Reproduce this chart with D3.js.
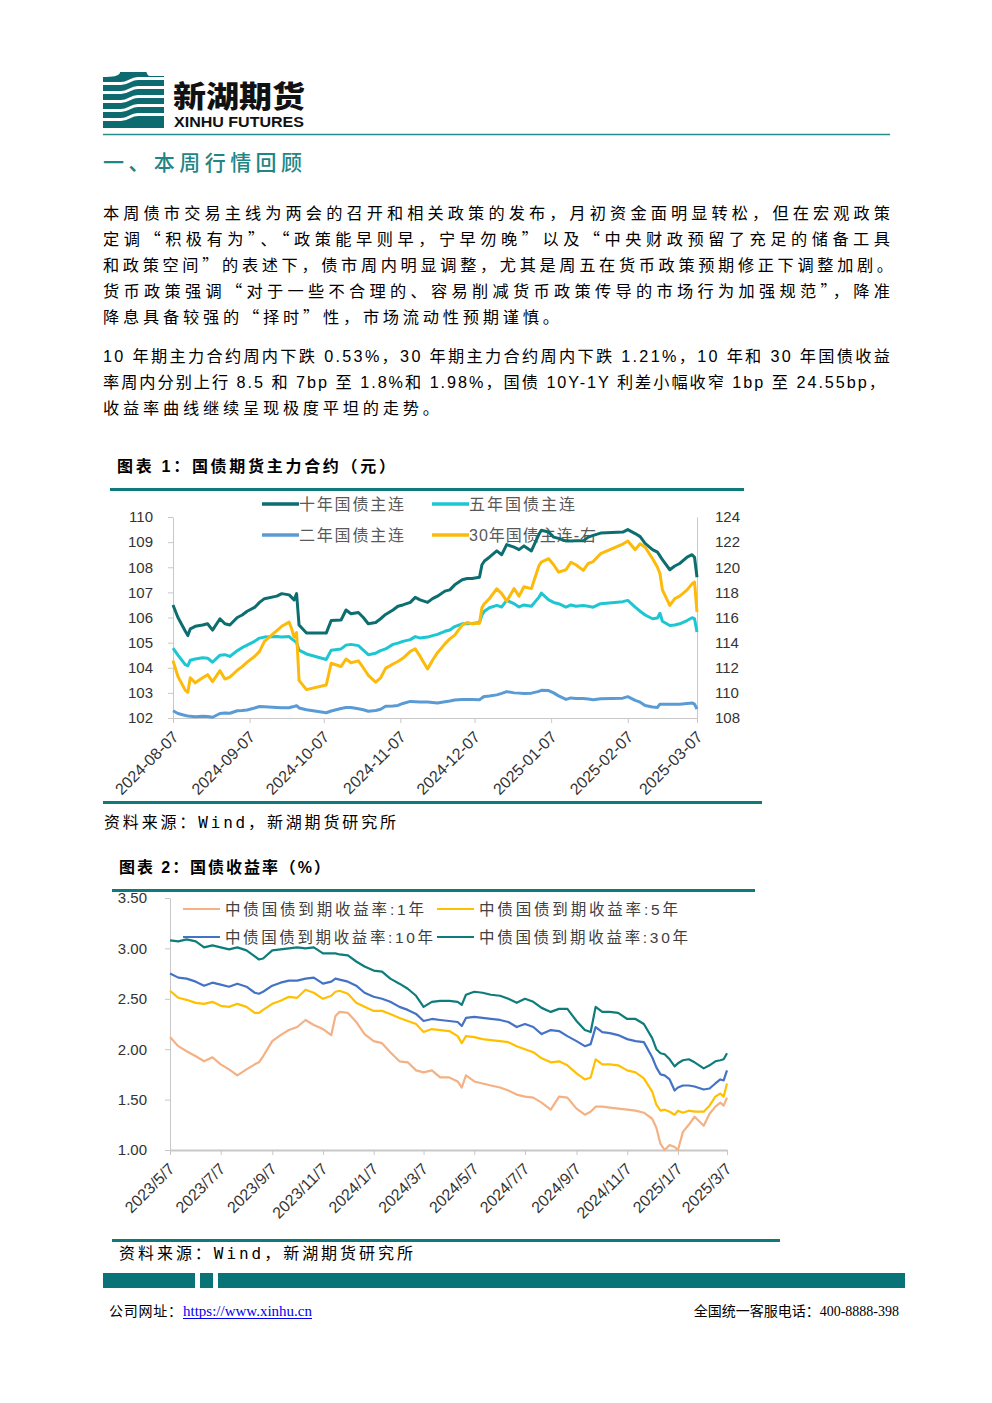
<!DOCTYPE html>
<html><head><meta charset="utf-8">
<script src="https://cdn.jsdelivr.net/npm/d3@7"></script>
<style>
html,body{margin:0;padding:0;background:#fff;}
svg{display:block;}
</style></head>
<body>
<svg id="page" width="992" height="1403"></svg>
<script>
// ---------------- Chart 1 data: 国债期货主力合约 ----------------
const c1Dates = ["2024-08-07","2024-08-09","2024-08-12","2024-08-13","2024-08-14","2024-08-16","2024-08-19","2024-08-21","2024-08-23","2024-08-26","2024-08-28","2024-08-30",
"2024-09-02","2024-09-04","2024-09-06","2024-09-09","2024-09-11","2024-09-13","2024-09-18","2024-09-20","2024-09-23","2024-09-24","2024-09-25","2024-09-26","2024-09-27","2024-09-30",
"2024-10-08","2024-10-10","2024-10-14","2024-10-16","2024-10-18","2024-10-21","2024-10-23","2024-10-25","2024-10-28","2024-10-30",
"2024-11-01","2024-11-04","2024-11-06","2024-11-08","2024-11-11","2024-11-13","2024-11-15","2024-11-18","2024-11-20","2024-11-22","2024-11-25","2024-11-27","2024-11-29",
"2024-12-02","2024-12-04","2024-12-06","2024-12-09","2024-12-10","2024-12-11","2024-12-13","2024-12-16","2024-12-18","2024-12-20","2024-12-23","2024-12-25","2024-12-27","2024-12-30",
"2025-01-02","2025-01-03","2025-01-06","2025-01-08","2025-01-10","2025-01-13","2025-01-15","2025-01-17","2025-01-20","2025-01-22","2025-01-24","2025-01-27",
"2025-02-05","2025-02-07","2025-02-10","2025-02-12","2025-02-14","2025-02-17","2025-02-19","2025-02-20","2025-02-21","2025-02-24","2025-02-26","2025-02-28",
"2025-03-03","2025-03-05","2025-03-06","2025-03-07"];
const c1T10 = [106.50,106.00,105.45,105.28,105.55,105.65,105.70,105.75,105.50,105.95,105.75,105.70,
106.00,106.10,106.25,106.40,106.60,106.75,106.85,106.95,106.90,106.80,106.70,106.95,105.70,105.38,
105.38,105.88,105.90,106.30,106.15,106.20,106.00,105.75,105.80,105.95,
106.12,106.30,106.45,106.50,106.60,106.80,106.70,106.60,106.75,106.85,107.05,107.10,107.30,
107.50,107.55,107.55,107.60,108.10,108.25,108.40,108.65,108.50,108.90,108.80,108.70,108.85,108.65,
109.30,109.47,109.40,109.20,109.15,109.05,109.04,109.05,109.05,109.20,109.27,109.36,
109.40,109.50,109.34,109.22,108.95,108.70,108.60,108.45,108.30,107.90,108.05,108.15,
108.40,108.50,108.40,107.60];
const c1T05 = [104.78,104.50,104.12,104.08,104.30,104.35,104.40,104.38,104.22,104.50,104.52,104.45,
104.68,104.80,104.90,105.05,105.18,105.22,105.24,105.22,105.24,105.15,105.08,105.00,104.70,104.55,
104.33,104.70,104.75,104.90,104.93,104.88,104.70,104.52,104.58,104.68,
104.75,104.93,104.98,105.05,105.12,105.24,105.18,105.22,105.28,105.33,105.45,105.50,105.64,
105.75,105.75,105.76,105.80,106.10,106.25,106.39,106.48,106.42,106.68,106.55,106.42,106.50,106.45,
106.80,106.97,106.70,106.60,106.55,106.41,106.50,106.45,106.48,106.45,106.41,106.55,
106.63,106.68,106.41,106.25,106.10,105.95,105.98,106.17,105.85,105.68,105.70,105.75,
105.88,105.99,105.95,105.42];
const c1T02 = [102.29,102.18,102.10,102.08,102.07,102.05,102.07,102.06,102.03,102.18,102.20,102.19,
102.29,102.30,102.32,102.40,102.46,102.45,102.42,102.41,102.41,102.44,102.46,102.49,102.40,102.33,
102.21,102.28,102.38,102.42,102.42,102.37,102.33,102.27,102.30,102.35,
102.47,102.48,102.50,102.58,102.66,102.65,102.64,102.64,102.62,102.60,102.65,102.68,102.72,
102.74,102.74,102.74,102.73,102.80,102.86,102.88,102.92,102.98,103.05,103.00,102.99,102.98,102.99,
103.06,103.10,103.09,103.00,102.88,102.74,102.80,102.78,102.78,102.76,102.73,102.77,
102.79,102.85,102.70,102.63,102.50,102.44,102.42,102.55,102.55,102.55,102.55,102.55,
102.58,102.60,102.55,102.36];
const c1T30 = [112.57,111.30,110.20,110.05,111.20,110.80,111.20,111.45,110.90,111.77,111.10,111.25,
111.80,112.09,112.45,112.90,113.30,114.10,114.95,115.30,115.63,115.10,114.43,114.80,111.00,110.26,
110.63,112.36,112.10,112.70,112.40,112.55,112.00,111.40,110.85,111.20,
111.95,112.30,112.50,112.75,113.30,113.50,112.90,111.90,112.60,113.20,113.90,114.30,114.60,
115.40,115.60,115.50,115.55,116.80,117.10,117.50,118.29,117.90,117.30,118.30,117.70,118.45,118.30,
120.10,120.41,120.68,120.20,119.61,119.80,120.40,120.20,119.75,120.30,120.45,121.08,
121.85,122.09,121.40,121.87,121.60,120.70,120.00,119.50,118.20,116.96,117.50,117.70,
118.20,118.68,118.82,116.43];
const c1LeftTicks = [102,103,104,105,106,107,108,109,110];
const c1RightTicks = [108,110,112,114,116,118,120,122,124];
const c1XTicks = ["2024-08-07","2024-09-07","2024-10-07","2024-11-07","2024-12-07","2025-01-07","2025-02-07","2025-03-07"];
const c1Names = ["十年国债主连","五年国债主连","二年国债主连","30年国债主连-右"];

// ---------------- Chart 2 data: 国债收益率 ----------------
const c2Dates = ["2023-05-07","2023-05-17","2023-05-27","2023-06-07","2023-06-17","2023-06-27","2023-07-07","2023-07-17","2023-07-27",
"2023-08-07","2023-08-17","2023-08-22","2023-08-27","2023-09-07","2023-09-17","2023-09-27","2023-10-07","2023-10-17","2023-10-27",
"2023-11-07","2023-11-17","2023-11-22","2023-11-27","2023-12-07","2023-12-17","2023-12-27",
"2024-01-07","2024-01-17","2024-01-27","2024-02-07","2024-02-17","2024-02-27","2024-03-07","2024-03-17","2024-03-27",
"2024-04-07","2024-04-17","2024-04-22","2024-04-27","2024-05-07","2024-05-17","2024-05-27","2024-06-07","2024-06-17","2024-06-27",
"2024-07-07","2024-07-17","2024-07-27","2024-08-07","2024-08-17","2024-08-27","2024-09-07","2024-09-17","2024-09-24","2024-09-30",
"2024-10-08","2024-10-17","2024-10-27","2024-11-07","2024-11-17","2024-11-27","2024-12-07","2024-12-12","2024-12-17","2024-12-22","2024-12-28",
"2025-01-03","2025-01-07","2025-01-13","2025-01-20","2025-01-27","2025-02-07","2025-02-14","2025-02-21","2025-02-27","2025-03-03","2025-03-07"];
const c2Y30 = [3.08,3.07,3.09,3.07,3.01,3.03,3.01,2.99,3.01,
2.98,2.92,2.89,2.90,2.98,2.99,3.00,3.01,3.00,3.01,
2.95,2.95,2.95,2.94,2.93,2.87,2.82,
2.78,2.77,2.70,2.65,2.60,2.53,2.42,2.47,2.48,
2.48,2.47,2.44,2.54,2.57,2.56,2.54,2.53,2.50,2.46,
2.50,2.47,2.41,2.37,2.40,2.40,2.28,2.19,2.17,2.42,
2.37,2.37,2.36,2.30,2.30,2.25,2.11,2.00,1.96,1.95,1.90,
1.83,1.86,1.89,1.90,1.87,1.81,1.84,1.88,1.89,1.90,1.96];
const c2Y10 = [2.75,2.71,2.70,2.67,2.63,2.66,2.64,2.62,2.65,
2.62,2.56,2.55,2.57,2.63,2.66,2.68,2.68,2.70,2.71,
2.65,2.67,2.70,2.69,2.67,2.63,2.56,
2.52,2.50,2.47,2.42,2.39,2.35,2.28,2.30,2.29,
2.28,2.27,2.23,2.31,2.32,2.31,2.30,2.29,2.27,2.22,
2.25,2.22,2.15,2.19,2.18,2.13,2.08,2.03,2.05,2.22,
2.17,2.16,2.14,2.10,2.08,2.07,1.92,1.82,1.75,1.74,1.70,
1.59,1.62,1.64,1.64,1.63,1.60,1.61,1.66,1.70,1.69,1.79];
const c2Y5 = [2.58,2.51,2.49,2.46,2.45,2.47,2.43,2.42,2.45,
2.42,2.36,2.36,2.39,2.45,2.48,2.52,2.51,2.59,2.56,
2.50,2.53,2.57,2.58,2.55,2.46,2.42,
2.38,2.38,2.35,2.31,2.28,2.25,2.17,2.20,2.19,
2.18,2.13,2.06,2.13,2.12,2.10,2.09,2.08,2.07,2.03,
2.00,1.97,1.91,1.87,1.88,1.84,1.76,1.70,1.72,1.90,
1.85,1.85,1.84,1.79,1.77,1.71,1.58,1.45,1.39,1.40,1.38,
1.35,1.39,1.37,1.39,1.38,1.38,1.44,1.53,1.56,1.53,1.66];
const c2Y1 = [2.12,2.03,1.98,1.93,1.88,1.92,1.85,1.80,1.74,
1.80,1.85,1.87,1.93,2.08,2.14,2.19,2.22,2.29,2.24,
2.20,2.14,2.33,2.37,2.36,2.27,2.15,
2.08,2.06,1.97,1.88,1.87,1.79,1.77,1.79,1.72,
1.72,1.68,1.62,1.74,1.68,1.66,1.64,1.62,1.59,1.55,
1.53,1.52,1.47,1.40,1.53,1.52,1.41,1.35,1.38,1.43,
1.43,1.42,1.41,1.40,1.39,1.37,1.31,1.22,1.06,1.00,1.05,
1.03,1.00,1.18,1.25,1.33,1.24,1.36,1.43,1.47,1.44,1.52];
const c2YTicks = [1.00,1.50,2.00,2.50,3.00,3.50];
const c2XTicks = ["2023-05-07","2023-07-07","2023-09-07","2023-11-07","2024-01-07","2024-03-07","2024-05-07","2024-07-07","2024-09-07","2024-11-07","2025-01-07","2025-03-07"];
const c2Names = ["中债国债到期收益率:1年","中债国债到期收益率:5年","中债国债到期收益率:10年","中债国债到期收益率:30年"];

// ---------------- Texts ----------------
const para1 = ["本周债市交易主线为两会的召开和相关政策的发布，月初资金面明显转松，但在宏观政策",
"定调“积极有为”、“政策能早则早，宁早勿晚”以及“中央财政预留了充足的储备工具",
"和政策空间”的表述下，债市周内明显调整，尤其是周五在货币政策预期修正下调整加剧。",
"货币政策强调“对于一些不合理的、容易削减货币政策传导的市场行为加强规范”，降准",
"降息具备较强的“择时”性，市场流动性预期谨慎。"];
const para2 = ["10 年期主力合约周内下跌 0.53%，30 年期主力合约周内下跌 1.21%，10 年和 30 年国债收益",
"率周内分别上行 8.5 和 7bp 至 1.8%和 1.98%，国债 10Y-1Y 利差小幅收窄 1bp 至 24.55bp，",
"收益率曲线继续呈现极度平坦的走势。"];

// ---------------- Drawing ----------------
const svg = d3.select("#page");
const FONT = "'Liberation Sans','Noto Sans CJK SC',sans-serif";
const CJK = "'Noto Sans CJK SC',sans-serif";
const TEAL = "#0f7a7b";
const parse = d3.timeParse("%Y-%m-%d");

// Logo icon
const icon = svg.append("g");
icon.append("rect").attr("x",103).attr("y",72).attr("width",61).attr("height",56).attr("fill","#0d6b6f");
[80.5,89.5,98.5,107.5,116.5].forEach(y=>{
  icon.append("path").attr("d",`M102,${y+3} L121,${y+3} C129,${y+3} 130,${y-2} 138,${y-2} L165,${y-2}`)
    .attr("stroke","#fff").attr("stroke-width",2.8).attr("fill","none");
});
icon.append("path").attr("d","M102,71 L120,71 L120,73 C118,76 114,77 102,77 Z").attr("fill","#fff");
icon.append("path").attr("d","M146,71 L165,71 L165,76 L150,76 C148,76 147,74 146,71 Z").attr("fill","#fff");

svg.append("text").attr("x",173).attr("y",107).text("新湖期货")
  .attr("font-family",CJK).attr("font-weight",900).attr("font-size",30)
  .attr("textLength",132).attr("lengthAdjust","spacingAndGlyphs").attr("fill","#111");
svg.append("text").attr("x",174).attr("y",127).text("XINHU FUTURES")
  .attr("font-family","'Liberation Sans',sans-serif").attr("font-weight",700).attr("font-size",14.5)
  .attr("textLength",130).attr("lengthAdjust","spacingAndGlyphs").attr("fill","#111");
svg.append("line").attr("x1",103).attr("x2",890).attr("y1",134.5).attr("y2",134.5).attr("stroke","#2b8b8c").attr("stroke-width",1.5);

// Section title
svg.append("text").attr("x",103).attr("y",170).text("一、本周行情回顾")
  .attr("font-family",CJK).attr("font-size",21).attr("font-weight",500)
  .attr("fill","#1f8585").attr("textLength",199).attr("lengthAdjust","spacing");

// Paragraphs (full-width quotes rendered with the CJK font)
function addRuns(el, t){
  const parts = t.split(/([“”])/).filter(s=>s.length);
  parts.forEach(p=>{
    const ts = el.append("tspan").text(p);
    if (p==="“"||p==="”") ts.attr("font-family",CJK);
  });
}
function para(lines, y0, justify){
  lines.forEach((t,i)=>{
    const el = svg.append("text").attr("x",103).attr("y",y0+i*26)
      .attr("font-family",FONT).attr("font-size",16.2).attr("fill","#000");
    addRuns(el, t);
    if (justify[i]) el.attr("textLength",justify[i]).attr("lengthAdjust","spacing");
    else el.attr("letter-spacing",3.8);
  });
}
para(para1, 219, [787,787,790,787,0]);
para(para2, 362, [787,782,0]);

function chartTitle(t, x, y, w){
  svg.append("text").attr("x",x).attr("y",y).text(t)
    .attr("font-family",FONT).attr("font-weight",700).attr("font-size",16)
    .attr("fill","#000").attr("textLength",w).attr("lengthAdjust","spacing");
}
function rule(x1,x2,y){
  svg.append("line").attr("x1",x1).attr("x2",x2).attr("y1",y).attr("y2",y).attr("stroke",TEAL).attr("stroke-width",3);
}
function source(x,y,w){
  svg.append("text").attr("x",x).attr("y",y).text("资料来源：Wind，新湖期货研究所")
    .attr("font-family","'DejaVu Sans Mono','Noto Sans CJK SC',monospace").attr("font-size",16)
    .attr("fill","#000").attr("textLength",w).attr("lengthAdjust","spacing");
}
function styleAxis(g, color, fs){
  g.selectAll("path.domain").attr("stroke",color);
  g.selectAll(".tick line").attr("stroke",color);
  g.selectAll(".tick text").attr("font-family","'Liberation Sans',sans-serif").attr("font-size",fs||15).attr("fill","#333");
}

// ================= Chart 1 =================
chartTitle("图表 1：国债期货主力合约（元）",117,472,278);
rule(110,744,489.5);

const x1 = d3.scaleTime().domain([parse("2024-08-07"),parse("2025-03-07")]).range([173,697]);
const yL = d3.scaleLinear().domain([102,110]).range([718,517]);
const yR = d3.scaleLinear().domain([108,124]).range([718,517]);
const g1 = svg.append("g");

const axL = g1.append("g").attr("transform","translate(173,0)")
  .call(d3.axisLeft(yL).tickValues(c1LeftTicks).tickSize(5).tickSizeOuter(0).tickPadding(15).tickFormat(d3.format("d")));
styleAxis(axL,"#c8c8c8");
const axR = g1.append("g").attr("transform","translate(697,0)")
  .call(d3.axisRight(yR).tickValues(c1RightTicks).tickSize(0).tickSizeOuter(0).tickPadding(18).tickFormat(d3.format("d")));
styleAxis(axR,"#c8c8c8");
const axX1 = g1.append("g").attr("transform","translate(0,718)")
  .call(d3.axisBottom(x1).tickValues(c1XTicks.map(parse)).tickSize(5).tickSizeOuter(0).tickFormat(d3.timeFormat("%Y-%m-%d")));
styleAxis(axX1,"#c8c8c8",16);
axX1.selectAll(".tick text").attr("text-anchor","end").attr("dy",0).attr("y",0)
  .attr("transform","translate(6,20) rotate(-45)");

const leg1 = [
  {color:"#0d6e70", x:262, y:504},
  {color:"#1ec6d2", x:432, y:504},
  {color:"#5b9bd5", x:262, y:535},
  {color:"#fcbb0a", x:432, y:535}];
const legW1 = [105,106,105,127];
leg1.forEach((d,i)=>{
  g1.append("line").attr("x1",d.x).attr("x2",d.x+37).attr("y1",d.y).attr("y2",d.y).attr("stroke",d.color).attr("stroke-width",3.5);
  g1.append("text").attr("x",d.x+37).attr("y",d.y+6).text(c1Names[i]).attr("font-family",FONT).attr("font-size",16)
    .attr("fill","#595959").attr("textLength",legW1[i]).attr("lengthAdjust","spacing");
});

const dates1 = c1Dates.map(parse);
const series1 = [
  {v:c1T10, y:yL, color:"#0d6e70"},
  {v:c1T05, y:yL, color:"#1ec6d2"},
  {v:c1T02, y:yL, color:"#5b9bd5"},
  {v:c1T30, y:yR, color:"#fcbb0a"}];
series1.forEach(s=>{
  const line = d3.line().x((d,i)=>x1(dates1[i])).y(d=>s.y(d));
  g1.append("path").datum(s.v).attr("d",line).attr("fill","none").attr("stroke",s.color)
    .attr("stroke-width",3).attr("stroke-linejoin","round");
});

rule(103,762,802.5);
source(104,828,292);

// ================= Chart 2 =================
chartTitle("图表 2：国债收益率（%）",119,873,211);

const x2 = d3.scaleTime().domain([parse("2023-05-07"),parse("2025-03-07")]).range([170,727]);
const y2 = d3.scaleLinear().domain([1,3.5]).range([1150,898]);
const g2 = svg.append("g");
const axY2 = g2.append("g").attr("transform","translate(170,0)")
  .call(d3.axisLeft(y2).tickValues(c2YTicks).tickSize(5).tickSizeOuter(0).tickPadding(18).tickFormat(d3.format(".2f")));
styleAxis(axY2,"#c8c8c8");
const axX2 = g2.append("g").attr("transform","translate(0,1150)")
  .call(d3.axisBottom(x2).tickValues(c2XTicks.map(parse)).tickSize(5).tickSizeOuter(0)
  .tickFormat(d=>`${d.getFullYear()}/${d.getMonth()+1}/${d.getDate()}`));
styleAxis(axX2,"#c8c8c8",16);
axX2.select("path.domain").attr("stroke-width",2);
axX2.selectAll(".tick text").attr("text-anchor","end").attr("dy",0).attr("y",0)
  .attr("transform","translate(5,20) rotate(-45)");

const c2Colors = ["#f4b183","#ffc000","#4472c4","#0e7c7b"];
const dates2 = c2Dates.map(parse);
[c2Y1,c2Y5,c2Y10,c2Y30].forEach((v,k)=>{
  const line = d3.line().x((d,i)=>x2(dates2[i])).y(d=>y2(d));
  g2.append("path").datum(v).attr("d",line).attr("fill","none").attr("stroke",c2Colors[k])
    .attr("stroke-width",2.2).attr("stroke-linejoin","round");
});
const leg2 = [{x:183,y:909},{x:437,y:909},{x:183,y:937},{x:437,y:937}];
const legW2 = [199,199,208,209];
leg2.forEach((d,i)=>{
  g2.append("line").attr("x1",d.x).attr("x2",d.x+37).attr("y1",d.y).attr("y2",d.y).attr("stroke",c2Colors[i]).attr("stroke-width",2.2);
  g2.append("text").attr("x",d.x+42).attr("y",d.y+5.5).text(c2Names[i]).attr("font-family",FONT).attr("font-size",15.5)
    .attr("fill","#404040").attr("textLength",legW2[i]).attr("lengthAdjust","spacing");
});
rule(112,755,890.5);

rule(112,780,1240.5);
source(119,1259,294);

// ================= Footer =================
[[103,195],[200,213],[218,905]].forEach(s=>{
  svg.append("rect").attr("x",s[0]).attr("y",1273).attr("width",s[1]-s[0]).attr("height",15).attr("fill","#0a7378");
});
const FF = "'Liberation Serif','Noto Sans CJK SC',serif";
svg.append("text").attr("x",109).attr("y",1316).text("公司网址：").attr("font-family",FF).attr("font-size",14).attr("fill","#000")
  .attr("textLength",73).attr("lengthAdjust","spacing");
svg.append("text").attr("x",183).attr("y",1316).text("https://www.xinhu.cn").attr("font-family",FF).attr("font-size",14.5).attr("fill","#0000ee")
  .attr("textLength",129).attr("lengthAdjust","spacingAndGlyphs");
svg.append("line").attr("x1",183).attr("x2",312).attr("y1",1318.5).attr("y2",1318.5).attr("stroke","#0000ee").attr("stroke-width",1);
svg.append("text").attr("x",899).attr("y",1316).attr("text-anchor","end").text("全国统一客服电话：400-8888-398")
  .attr("font-family",FF).attr("font-size",14).attr("fill","#000");
</script>
</body></html>
